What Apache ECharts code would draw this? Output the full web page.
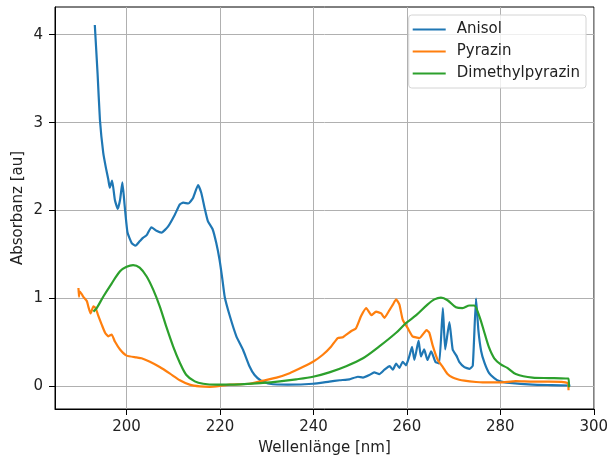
<!DOCTYPE html>
<html>
<head>
<meta charset="utf-8">
<script src="https://cdn.jsdelivr.net/npm/echarts@6/dist/echarts.min.js"></script>
<style>
  html, body { margin: 0; padding: 0; background: #fff; }
  #chart { width: 608px; height: 461px; }
</style>
</head>
<body>
<div id="chart"></div>
<script>
// Wellenlänge [nm] / Absorbanz [au]
const anisolX = [193.2, 193.8, 194.3, 195.0, 195.6, 196.1, 196.4, 196.9, 197.5, 198.1, 198.6, 199.1, 199.6, 200.2, 201.1, 201.9, 202.8, 203.5, 204.3, 205.3, 206.4, 207.5, 208.9, 210.3, 211.4, 212.1, 213.2, 214.2, 215.3, 216.0, 216.7, 217.4, 218.4, 219.2, 219.9, 220.5, 221.0, 222.1, 223.5, 224.9, 226.3, 227.4, 228.8, 230.6, 234.5, 239.9, 243.4, 245.6, 247.7, 249.5, 250.6, 252.0, 253.0, 254.1, 255.2, 256.3, 257.0, 257.7, 258.4, 259.1, 259.8, 260.5, 261.1, 261.6, 262.5, 263.0, 263.7, 264.4, 265.2, 266.1, 266.9, 267.7, 268.2, 269.1, 269.8, 270.6, 271.2, 272.3, 273.4, 274.1, 274.8, 275.3, 275.9, 276.6, 277.6, 278.7, 279.8, 282.0, 286.9, 291.0, 295.0];
const anisolY = [4.11, 3.55, 3.03, 2.66, 2.48, 2.35, 2.26, 2.34, 2.12, 2.02, 2.12, 2.32, 2.05, 1.75, 1.63, 1.60, 1.65, 1.69, 1.72, 1.81, 1.77, 1.75, 1.82, 1.95, 2.07, 2.09, 2.08, 2.14, 2.29, 2.20, 2.03, 1.88, 1.79, 1.63, 1.44, 1.22, 1.02, 0.80, 0.57, 0.42, 0.23, 0.13, 0.065, 0.03, 0.02, 0.03, 0.055, 0.07, 0.08, 0.11, 0.10, 0.13, 0.16, 0.14, 0.19, 0.23, 0.19, 0.26, 0.21, 0.28, 0.24, 0.34, 0.45, 0.30, 0.52, 0.34, 0.42, 0.30, 0.40, 0.28, 0.26, 0.89, 0.42, 0.73, 0.42, 0.35, 0.28, 0.22, 0.20, 0.235, 1.00, 0.64, 0.40, 0.27, 0.15, 0.095, 0.06, 0.04, 0.02, 0.015, 0.01];

const pyrazinX = [189.7, 189.8, 189.9, 190.4, 190.7, 191.5, 191.8, 192.3, 192.9, 193.4, 193.9, 194.7, 195.4, 196.1, 196.8, 197.5, 198.6, 200.0, 202.1, 203.2, 205.0, 207.1, 209.3, 211.4, 213.5, 215.7, 217.8, 220.0, 222.1, 226.3, 229.2, 232.1, 234.9, 237.7, 239.9, 242.0, 243.8, 245.2, 246.3, 248.1, 249.1, 250.2, 251.3, 252.4, 253.4, 254.5, 255.2, 256.3, 257.0, 257.7, 258.4, 259.1, 260.2, 261.2, 262.7, 263.7, 264.2, 264.8, 265.5, 266.6, 267.7, 268.7, 269.8, 271.2, 272.3, 274.8, 276.2, 279.8, 283.3, 287.0, 290.4, 294.4, 294.6];
const pyrazinY = [1.12, 1.02, 1.08, 1.05, 1.02, 0.97, 0.91, 0.83, 0.91, 0.89, 0.81, 0.70, 0.61, 0.57, 0.59, 0.51, 0.42, 0.35, 0.33, 0.32, 0.28, 0.22, 0.145, 0.07, 0.02, 0.0, -0.005, 0.005, 0.02, 0.03, 0.065, 0.10, 0.15, 0.22, 0.28, 0.36, 0.455, 0.55, 0.56, 0.63, 0.66, 0.80, 0.89, 0.81, 0.85, 0.83, 0.78, 0.87, 0.93, 0.99, 0.93, 0.76, 0.66, 0.57, 0.55, 0.61, 0.64, 0.61, 0.47, 0.30, 0.22, 0.14, 0.10, 0.076, 0.065, 0.05, 0.045, 0.045, 0.06, 0.055, 0.055, 0.04, -0.045];

const dimethylX = [192.9, 193.6, 195.0, 196.8, 198.6, 200.0, 201.4, 202.8, 204.3, 205.7, 207.1, 208.5, 210.0, 211.4, 212.8, 214.6, 216.4, 219.2, 222.1, 229.2, 232.8, 236.3, 239.9, 243.4, 247.0, 250.6, 254.1, 257.7, 259.8, 262.0, 264.4, 265.9, 267.3, 268.7, 270.5, 271.9, 273.4, 274.4, 275.5, 276.6, 277.6, 278.7, 280.1, 281.5, 283.3, 286.9, 290.4, 294.0, 294.6, 294.7];
const dimethylY = [0.85, 0.89, 1.02, 1.17, 1.31, 1.36, 1.38, 1.35, 1.25, 1.10, 0.91, 0.68, 0.45, 0.27, 0.13, 0.057, 0.03, 0.02, 0.02, 0.04, 0.057, 0.08, 0.11, 0.16, 0.23, 0.32, 0.455, 0.61, 0.72, 0.81, 0.93, 0.99, 1.01, 0.98, 0.90, 0.89, 0.92, 0.92, 0.80, 0.61, 0.44, 0.32, 0.25, 0.21, 0.14, 0.10, 0.095, 0.09, 0.09, -0.01];

const xTicks = [200, 220, 240, 260, 280, 300];
const yTicks = [0, 1, 2, 3, 4];

const zip = (xs, ys) => xs.map((x, i) => [x, ys[i]]);

const chart = echarts.init(document.getElementById('chart'));
const font = 'DejaVu Sans';
const fs = 15;

chart.setOption({
  animation: false,
  textStyle: { fontFamily: font },
  grid: {
    left: 55, right: 14, top: 7, bottom: 52,
    outerBoundsMode: 'none',
    show: true, borderColor: '#000', borderWidth: 1, backgroundColor: 'transparent'
  },
  legend: {
    orient: 'vertical',
    right: 22, top: 15,
    padding: [7, 6, 7, 4],
    icon: 'rect',
    itemWidth: 33, itemHeight: 2, itemGap: 7,
    backgroundColor: 'rgba(255,255,255,0.8)',
    borderColor: '#d4d4d4', borderWidth: 1, borderRadius: 3,
    textStyle: { fontFamily: font, fontSize: fs, color: '#222', padding: [0, 0, 0, 6] },
    data: ['Anisol', 'Pyrazin', 'Dimethylpyrazin']
  },
  xAxis: {
    type: 'value', min: 184.68, max: 300.05,
    name: 'Wellenlänge [nm]', nameLocation: 'middle', nameGap: 32, nameMoveOverlap: false,
    nameTextStyle: { fontFamily: font, fontSize: fs, color: '#222' },
    axisLine: { show: true, onZero: false, lineStyle: { color: '#000' } },
    axisTick: { show: true, length: 6, customValues: xTicks, lineStyle: { color: '#000' } },
    axisLabel: { customValues: xTicks, fontFamily: font, fontSize: fs, color: '#222', margin: 11 },
    splitLine: { show: true, lineStyle: { color: '#b0b0b0', width: 1 } }
  },
  yAxis: {
    type: 'value', min: -0.257, max: 4.315,
    name: 'Absorbanz [au]', nameLocation: 'middle', nameGap: 29, nameMoveOverlap: false,
    nameTextStyle: { fontFamily: font, fontSize: fs, color: '#222' },
    axisLine: { show: true, onZero: false, lineStyle: { color: '#000' } },
    axisTick: { show: true, length: 6, customValues: yTicks, lineStyle: { color: '#000' } },
    axisLabel: { customValues: yTicks, fontFamily: font, fontSize: fs, color: '#222', margin: 12 },
    splitLine: { show: true, lineStyle: { color: '#b0b0b0', width: 1 } }
  },
  series: [
    {
      name: 'Anisol', type: 'line', symbol: 'none', smooth: 0.15,
      data: zip(anisolX, anisolY),
      lineStyle: { color: '#1f77b4', width: 2.2 }, itemStyle: { color: '#1f77b4' }
    },
    {
      name: 'Pyrazin', type: 'line', symbol: 'none', smooth: 0.15,
      data: zip(pyrazinX, pyrazinY),
      lineStyle: { color: '#ff7f0e', width: 2.2 }, itemStyle: { color: '#ff7f0e' }
    },
    {
      name: 'Dimethylpyrazin', type: 'line', symbol: 'none', smooth: 0.3,
      data: zip(dimethylX, dimethylY),
      lineStyle: { color: '#2ca02c', width: 2.2 }, itemStyle: { color: '#2ca02c' }
    }
  ]
});
</script>
</body>
</html>
